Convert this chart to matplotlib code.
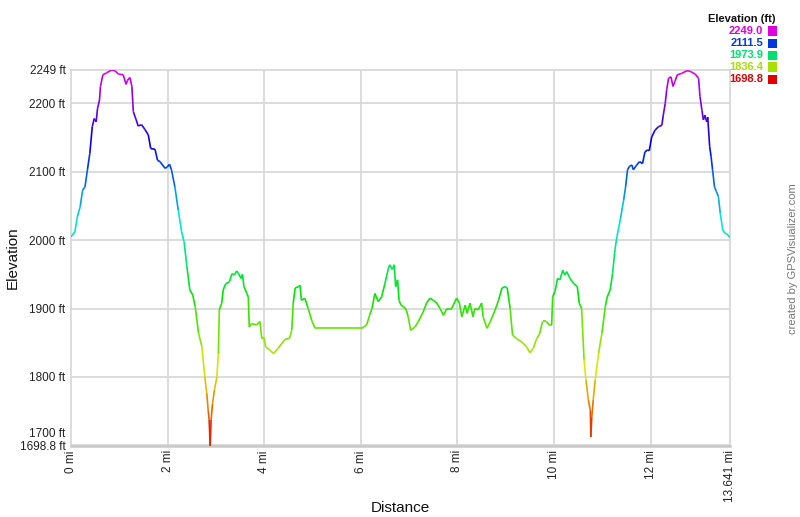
import matplotlib
matplotlib.use("Agg")
import matplotlib.pyplot as plt
import matplotlib.transforms as mtrans
from matplotlib.collections import LineCollection
import numpy as np
import colorsys

plt.rcParams['font.family'] = ['Liberation Sans', 'DejaVu Sans']

# profile: distance (mi), elevation (ft)
dist = [0.00, 0.08, 0.13, 0.19, 0.24, 0.29, 0.34, 0.39, 0.44, 0.48, 0.52, 0.55, 0.59, 0.61, 0.66,
        0.74, 0.84, 0.91, 0.98, 1.08, 1.14, 1.17, 1.22, 1.26, 1.29, 1.35, 1.39, 1.46, 1.53, 1.60,
        1.65, 1.74, 1.79, 1.84, 1.95, 1.99, 2.04, 2.08, 2.15, 2.22, 2.29, 2.34, 2.40, 2.46, 2.52,
        2.57, 2.64, 2.71, 2.77, 2.81, 2.84, 2.86, 2.88, 2.90, 2.93, 2.97, 3.02, 3.05, 3.07, 3.12,
        3.15, 3.20, 3.28, 3.33, 3.38, 3.43, 3.47, 3.52, 3.55, 3.58, 3.64, 3.67, 3.69, 3.74, 3.84,
        3.91, 3.95, 3.99, 4.03, 4.12, 4.19, 4.29, 4.43, 4.52, 4.57, 4.60, 4.64, 4.71, 4.74, 4.77,
        4.84, 4.91, 4.98, 5.05, 6.02, 6.12, 6.18, 6.23, 6.29, 6.36, 6.43, 6.50, 6.57, 6.60, 6.65,
        6.69, 6.72, 6.76, 6.79, 6.83, 6.88, 6.94, 6.98, 7.03, 7.12, 7.19, 7.29, 7.36, 7.43, 7.50,
        7.57, 7.64, 7.71, 7.78, 7.88, 7.98, 8.04, 8.09, 8.16, 8.20, 8.26, 8.32, 8.36, 8.43, 8.50,
        8.53, 8.61, 8.68, 8.78, 8.85, 8.92, 8.99, 9.03, 9.09, 9.14, 9.22, 9.33, 9.43, 9.50, 9.57,
        9.64, 9.70, 9.76, 9.84, 9.90, 9.95, 9.97, 10.02, 10.07, 10.12, 10.18, 10.22, 10.26, 10.33,
        10.40, 10.48, 10.52, 10.57, 10.62, 10.66, 10.71, 10.75, 10.76, 10.78, 10.81, 10.85, 10.92,
        10.99, 11.06, 11.10, 11.16, 11.21, 11.26, 11.30, 11.37, 11.44, 11.48, 11.52, 11.56, 11.61,
        11.64, 11.71, 11.77, 11.83, 11.88, 11.93, 11.97, 12.02, 12.09, 12.16, 12.23, 12.26, 12.30,
        12.33, 12.37, 12.42, 12.46, 12.50, 12.55, 12.64, 12.75, 12.82, 12.92, 12.99, 13.02, 13.06,
        13.09, 13.12, 13.16, 13.18, 13.22, 13.25, 13.28, 13.32, 13.36, 13.40, 13.44, 13.49, 13.54,
        13.58, 13.641]
elev = [2005, 2012, 2034, 2049, 2073, 2078, 2103, 2127, 2166, 2178, 2173, 2193, 2205, 2225, 2242,
        2245, 2249, 2248, 2243, 2242, 2228, 2234, 2238, 2225, 2188, 2176, 2167, 2169, 2162, 2154,
        2134, 2133, 2117, 2115, 2105, 2107, 2111, 2103, 2078, 2044, 2012, 1998, 1961, 1927, 1920,
        1903, 1864, 1844, 1800, 1776, 1751, 1737, 1698.8, 1737, 1761, 1781, 1800, 1834, 1898, 1908,
        1927, 1936, 1939, 1951, 1949, 1955, 1951, 1944, 1950, 1932, 1922, 1917, 1873, 1878, 1876,
        1881, 1856, 1858, 1844, 1839, 1834, 1842, 1855, 1856, 1868, 1908, 1930, 1932, 1934, 1912,
        1915, 1900, 1883, 1871, 1871, 1876, 1890, 1900, 1922, 1910, 1917, 1937, 1959, 1964, 1957,
        1964, 1932, 1942, 1912, 1905, 1903, 1898, 1888, 1868, 1873, 1881, 1895, 1908, 1915, 1912,
        1908, 1900, 1890, 1900, 1900, 1915, 1908, 1888, 1905, 1893, 1908, 1888, 1900, 1898, 1908,
        1888, 1871, 1881, 1898, 1912, 1930, 1932, 1930, 1900, 1861, 1856, 1851, 1844, 1835, 1842,
        1856, 1863, 1881, 1881, 1876, 1876, 1917, 1925, 1944, 1942, 1956, 1949, 1954, 1944,
        1937, 1932, 1908, 1900, 1825, 1795, 1766, 1751, 1712, 1741, 1766, 1795, 1834,
        1864, 1903, 1917, 1927, 1951, 1986, 2005, 2030, 2059, 2078, 2103, 2108, 2110,
        2103, 2110, 2115, 2112, 2129, 2132, 2131, 2151, 2161, 2166, 2168, 2183, 2200,
        2220, 2237, 2239, 2225, 2232, 2242, 2244, 2248, 2247, 2243, 2237, 2210, 2190,
        2176, 2183, 2173, 2180, 2137, 2122, 2103, 2078, 2071, 2064, 2039, 2015, 2010,
        2009, 2004]

ymin, ymax = 1698.8, 2249.0
xmax = 13.641
ytick_vals = [1698.8, 1700, 1800, 1900, 2000, 2100, 2200, 2249]
ytick_labels = ['1698.8 ft', '1700 ft', '1800 ft', '1900 ft', '2000 ft', '2100 ft', '2200 ft', '2249 ft']
xtick_vals = [0, 2, 4, 6, 8, 10, 12, 13.641]
xtick_labels = ['0 mi', '2 mi', '4 mi', '6 mi', '8 mi', '10 mi', '12 mi', '13.641 mi']
legend_vals = [2249.0, 2111.5, 1973.9, 1836.4, 1698.8]


def elev_color(e, v=0.9):
    f = (e - ymin) / (ymax - ymin)
    f = min(max(f, 0), 1)
    return colorsys.hsv_to_rgb(f * 300 / 360.0, 1.0, v)


fig = plt.figure(figsize=(8, 5.17), dpi=100)
ax = fig.add_axes([71 / 800, 1 - 446 / 517, (730 - 71) / 800, (446 - 70) / 517])

grid_c = '#d6d6d6'
for yv in [1700, 1800, 1900, 2000, 2100, 2200]:
    ax.axhline(yv, color=grid_c, lw=1.2, zorder=0)
for xv in [2, 4, 6, 8, 10, 12]:
    ax.axvline(xv, color=grid_c, lw=1.2, zorder=0)

pts = np.column_stack([dist, elev])
segs = np.stack([pts[:-1], pts[1:]], axis=1)
cols = [elev_color((a + b) / 2) for a, b in zip(elev[:-1], elev[1:])]
lc = LineCollection(segs, colors=cols, linewidths=1.2, zorder=3)
ax.add_collection(lc)

ax.set_xlim(0, xmax)
ax.set_ylim(ymin, ymax)
for s in ax.spines.values():
    s.set_color(grid_c)
    s.set_linewidth(1.2)
ax.spines['bottom'].set_color('#c8c8c8')
ax.spines['bottom'].set_linewidth(1.8)

ax.set_yticks(ytick_vals)
ax.set_yticklabels(ytick_labels, fontsize=8.5, color='#222222')
ax.set_xticks(xtick_vals)
ax.set_xticklabels(xtick_labels, fontsize=8.5, rotation=90, color='#222222', va='top')
ax.tick_params(length=0, pad=4)
ax.tick_params(axis='x', pad=3)
for lab in ax.get_yticklabels():
    if lab.get_text() == '1700 ft':
        lab.set_transform(lab.get_transform() + mtrans.ScaledTranslation(0, 9 / 72, fig.dpi_scale_trans))

fig.text(400 / 800, 1 - 508 / 517, 'Distance', ha='center', va='center', fontsize=11, color='#111111')
fig.text(13 / 800, 1 - 258 / 517, 'Elevation', ha='center', va='center', fontsize=11,
         rotation=90, color='#111111')

# colour legend, top right
fig.text(776 / 800, 1 - 19 / 517, 'Elevation (ft)', ha='right', va='center', fontsize=8,
         fontweight='bold', color='#111111')
for i, v in enumerate(legend_vals):
    yy = 1 - (31 + 12 * i) / 517
    c = elev_color(v, 0.88)
    fig.text(763 / 800, yy, '%.1f' % v, ha='right', va='center', fontsize=8,
             fontweight='bold', color=c)
    fig.patches.append(plt.Rectangle((768 / 800, yy - 4.5 / 517), 9 / 800, 9 / 517,
                                     transform=fig.transFigure, facecolor=c, edgecolor='none'))

fig.text(793 / 800, 1 - 259 / 517, 'created by GPSVisualizer.com', ha='center', va='center',
         fontsize=8, rotation=90, color='#777777')

fig.savefig('out.png', dpi=100)
